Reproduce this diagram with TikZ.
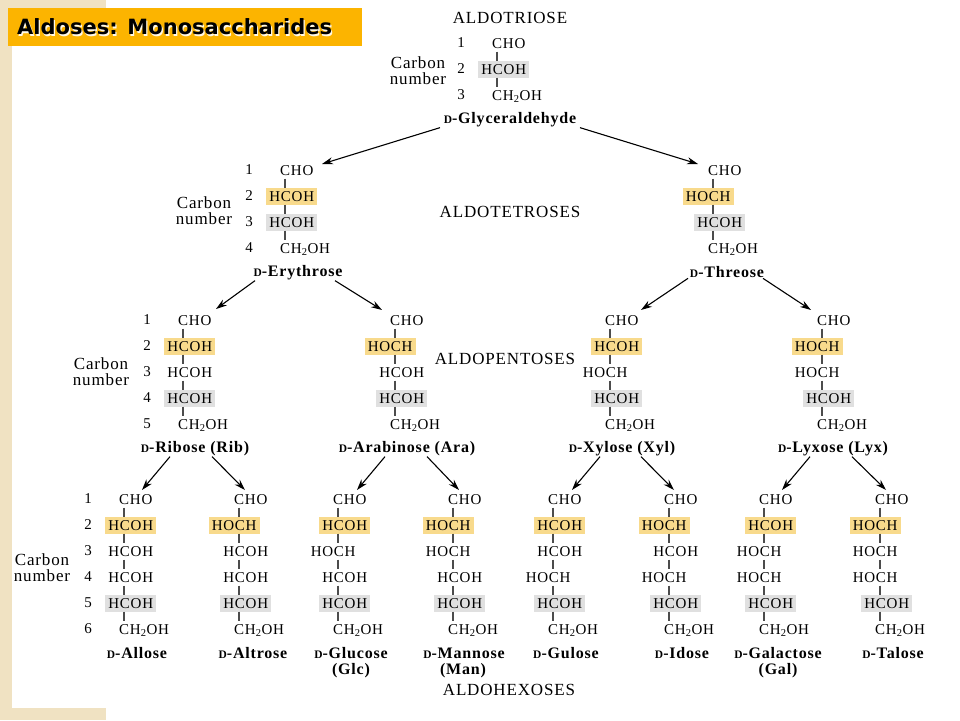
\documentclass[tikz,border=0pt]{standalone}
\usepackage{fontspec}
\setmainfont[LetterSpace=5]{Liberation Serif}
\newfontfamily\titlefont{DejaVu Sans}
\usetikzlibrary{arrows,arrows.meta,calc}
\definecolor{titleorange}{RGB}{252,180,0}
\definecolor{newcyellow}{RGB}{248,218,140}
\definecolor{refcgray}{RGB}{224,224,224}
\definecolor{slidebeige}{RGB}{240,226,194}
\newlength\lftwd
\newlength\cwd
\newcommand\chemsize{\fontsize{15}{17}\selectfont}
\newcommand\Dsc{{\fontsize{11.5}{12}\selectfont D}}
\tikzset{
    group/.style={inner xsep=3pt, inner ysep=3pt, text height=10pt, text depth=0.5pt, anchor=base west}, % one CHOH row
    plainC/.style={},
    newC/.style={fill=newcyellow}, % carbon added at this step
    refC/.style={fill=refcgray}, % carbon that fixes the D series
    bond/.style={draw=black!70, line width=1.1pt},
    num/.style={inner sep=0pt},
    sugarname/.style={font=\bfseries\fontsize{16}{18}\selectfont, inner sep=1pt, anchor=base},
    series/.style={font=\fontsize{17}{19}\selectfont, inner sep=0pt},
    carbonlabel/.style={font=\fontsize{17}{16}\selectfont, align=center, inner sep=0pt},
    titletext/.style={font=\titlefont\bfseries\fontsize{21}{24}\selectfont, anchor=west, inner sep=0pt},
}
\tikzstyle{arrow} = [line width=1.1pt, -{Stealth[length=11pt,width=7pt]}]
% #1 prefix, #2 x of the carbon chain, #3 y of C1, #4 rows left/right/style
\newcommand\sugar[4]{%
  \coordinate (#1x) at (#2,#3);
  \foreach \lft/\rgt/\hlstyle [count=\i] in {#4}{
    \pgfinterruptpicture
      \settowidth\lftwd{\chemsize\lft}\global\lftwd=\lftwd
      \settowidth\cwd{\chemsize C}\global\cwd=\cwd
    \endpgfinterruptpicture
    \pgfmathsetmacro\lw{\lftwd+0.5*\cwd+3pt}
    \node[group,\hlstyle] (#1\i) at (#2-\lw,#3+26*\i-21) {\lft C\rgt};
    \ifnum\i>1
      \pgfmathtruncatemacro\j{\i-1}
      \draw[bond] (#1\j.south -| #1x) -- (#1\i.north -| #1x);
    \fi
  }
}

\begin{document}
\begin{tikzpicture}[x=1pt, y=-1pt, font=\chemsize]
    \fill[white] (0,0) rectangle (960,720);
    \fill[slidebeige] (0,0) rectangle (12,720);
    \fill[slidebeige] (0,0) rectangle (106,8);
    \fill[slidebeige] (0,708) rectangle (106,720);
    \useasboundingbox (0,0) rectangle (960,720);

    % title bar
    \fill[titleorange] (8,8) rectangle (362,46);
    \node[titletext, text=white!90!titleorange] (titleshadow) at (18.2,28.2) {Aldoses: Monosaccharides};
    \node[titletext] (title) at (17,27) {Aldoses: Monosaccharides};

    % series headings
    \node[series] (triose) at (510,18) {ALDOTRIOSE};
    \node[series] (tetrose) at (510,212) {ALDOTETROSES};
    \node[series] (pentose) at (505,359) {ALDOPENTOSES};
    \node[series] (hexose) at (509,690) {ALDOHEXOSES};

    % carbon numbering
    \node[carbonlabel] (glacarbon) at (418,70.5) {Carbon\\number};
    \node[carbonlabel] (erycarbon) at (204,210.5) {Carbon\\number};
    \node[carbonlabel] (ribcarbon) at (101,371.5) {Carbon\\number};
    \node[carbonlabel] (allcarbon) at (42,567.5) {Carbon\\number};
    \foreach \n in {1,...,3} \node[num] (glanum\n) at (461,17+26*\n) {\n};
    \foreach \n in {1,...,4} \node[num] (erynum\n) at (249,144+26*\n) {\n};
    \foreach \n in {1,...,5} \node[num] (ribnum\n) at (147,294+26*\n) {\n};
    \foreach \n in {1,...,6} \node[num] (allnum\n) at (88,473+26*\n) {\n};

    % chains
    \sugar{gla}{497}{43}{/HO/plainC,H/OH/refC,/H\textsubscript{2}OH/plainC}
    \sugar{ery}{285}{170}{/HO/plainC,H/OH/newC,H/OH/refC,/H\textsubscript{2}OH/plainC}
    \sugar{thr}{713}{170}{/HO/plainC,HO/H/newC,H/OH/refC,/H\textsubscript{2}OH/plainC}
    \sugar{rib}{183}{320}{/HO/plainC,H/OH/newC,H/OH/plainC,H/OH/refC,/H\textsubscript{2}OH/plainC}
    \sugar{ara}{395}{320}{/HO/plainC,HO/H/newC,H/OH/plainC,H/OH/refC,/H\textsubscript{2}OH/plainC}
    \sugar{xyl}{610}{320}{/HO/plainC,H/OH/newC,HO/H/plainC,H/OH/refC,/H\textsubscript{2}OH/plainC}
    \sugar{lyx}{822}{320}{/HO/plainC,HO/H/newC,HO/H/plainC,H/OH/refC,/H\textsubscript{2}OH/plainC}
    \sugar{all}{124}{499}{/HO/plainC,H/OH/newC,H/OH/plainC,H/OH/plainC,H/OH/refC,/H\textsubscript{2}OH/plainC}
    \sugar{alt}{239}{499}{/HO/plainC,HO/H/newC,H/OH/plainC,H/OH/plainC,H/OH/refC,/H\textsubscript{2}OH/plainC}
    \sugar{glc}{338}{499}{/HO/plainC,H/OH/newC,HO/H/plainC,H/OH/plainC,H/OH/refC,/H\textsubscript{2}OH/plainC}
    \sugar{man}{453}{499}{/HO/plainC,HO/H/newC,HO/H/plainC,H/OH/plainC,H/OH/refC,/H\textsubscript{2}OH/plainC}
    \sugar{gul}{553}{499}{/HO/plainC,H/OH/newC,H/OH/plainC,HO/H/plainC,H/OH/refC,/H\textsubscript{2}OH/plainC}
    \sugar{ido}{669}{499}{/HO/plainC,HO/H/newC,H/OH/plainC,HO/H/plainC,H/OH/refC,/H\textsubscript{2}OH/plainC}
    \sugar{gal}{764}{499}{/HO/plainC,H/OH/newC,HO/H/plainC,HO/H/plainC,H/OH/refC,/H\textsubscript{2}OH/plainC}
    \sugar{tal}{880}{499}{/HO/plainC,HO/H/newC,HO/H/plainC,HO/H/plainC,H/OH/refC,/H\textsubscript{2}OH/plainC}

    % names
    \node[sugarname] (glyceraldehyde) at (510,123) {\Dsc-Glyceraldehyde};
    \node[sugarname] (erythrose) at (298,276) {\Dsc-Erythrose};
    \node[sugarname] (threose) at (727,277) {\Dsc-Threose};
    \node[sugarname] (ribose) at (195,452) {\Dsc-Ribose (Rib)};
    \node[sugarname] (arabinose) at (407,452) {\Dsc-Arabinose (Ara)};
    \node[sugarname] (xylose) at (622,452) {\Dsc-Xylose (Xyl)};
    \node[sugarname] (lyxose) at (833,452) {\Dsc-Lyxose (Lyx)};
    \node[sugarname] (allose) at (137,658) {\Dsc-Allose};
    \node[sugarname] (altrose) at (253,658) {\Dsc-Altrose};
    \node[sugarname] (glucose) at (351,658) {\Dsc-Glucose};
    \node[sugarname] (glcabbr) at (351,674) {(Glc)};
    \node[sugarname] (mannose) at (464,658) {\Dsc-Mannose};
    \node[sugarname] (manabbr) at (463,674) {(Man)};
    \node[sugarname] (gulose) at (566,658) {\Dsc-Gulose};
    \node[sugarname] (idose) at (682,658) {\Dsc-Idose};
    \node[sugarname] (galactose) at (778,658) {\Dsc-Galactose};
    \node[sugarname] (galabbr) at (778,674) {(Gal)};
    \node[sugarname] (talose) at (893,658) {\Dsc-Talose};

    % one carbon longer
    \draw[arrow] ([xshift=-70pt]glyceraldehyde.south) -- ($(eryx)+(37,-6)$);
    \draw[arrow] ([xshift=70pt]glyceraldehyde.south) -- ($(thrx)+(-15,-6)$);
    \draw[arrow] ([xshift=-43pt]erythrose.south) -- ($(ribx)+(33,-11)$);
    \draw[arrow] ([xshift=37pt]erythrose.south) -- ($(arax)+(-13,-10)$);
    \draw[arrow] ([xshift=-39pt]threose.south) -- ($(xylx)+(31,-10)$);
    \draw[arrow] ([xshift=36pt]threose.south) -- ($(lyxx)+(-11,-10)$);
    \draw[arrow] ([xshift=-25pt]ribose.south) -- ($(allx)+(18,-9)$);
    \draw[arrow] ([xshift=17pt]ribose.south) -- ($(altx)+(6,-9)$);
    \draw[arrow] ([xshift=-22pt]arabinose.south) -- ($(glcx)+(19,-9)$);
    \draw[arrow] ([xshift=20pt]arabinose.south) -- ($(manx)+(6,-9)$);
    \draw[arrow] ([xshift=-22pt]xylose.south) -- ($(gulx)+(19,-9)$);
    \draw[arrow] ([xshift=19pt]xylose.south) -- ($(idox)+(5,-9)$);
    \draw[arrow] ([xshift=-23pt]lyxose.south) -- ($(galx)+(18,-9)$);
    \draw[arrow] ([xshift=19pt]lyxose.south) -- ($(talx)+(6,-9)$);
\end{tikzpicture}
\end{document}
